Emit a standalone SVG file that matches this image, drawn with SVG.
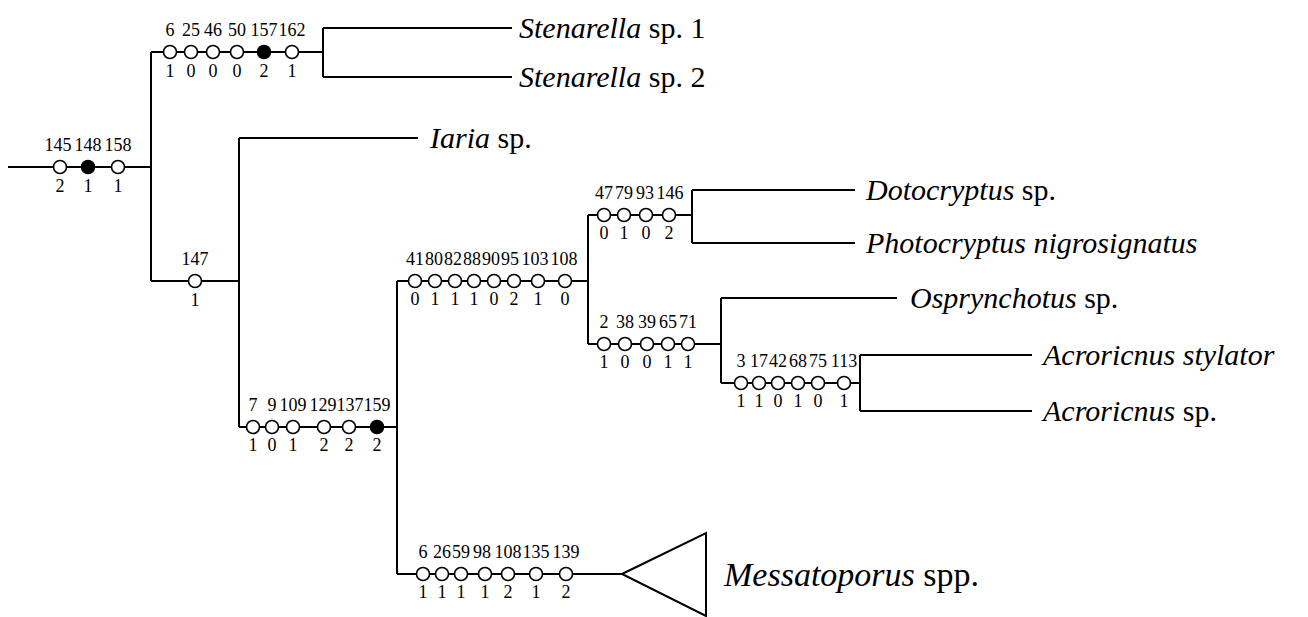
<svg xmlns="http://www.w3.org/2000/svg" width="1308" height="617" viewBox="0 0 1308 617" font-family="Liberation Serif, DejaVu Serif, Times New Roman, serif">
<style>
.ln{stroke:#000;stroke-width:2;fill:none}
.oc{fill:#fff;stroke:#000;stroke-width:1.6}
.fc{fill:#000;stroke:#000;stroke-width:1.6}
.lb{font-size:18px;fill:#000;text-anchor:middle}
.tx{font-size:30px;fill:#000}
.it{font-style:italic}
</style>
<rect width="1308" height="617" fill="#fff"/>
<g id="connectors">
<path class="ln" d="M8 167H151M151 52V281M151 52H323M323 28V77M323 28H512M323 77H512M151 281H239M239 138V427M239 138H418M239 427H397M397 281V574M397 281H588M588 215V344M588 215H692M692 190V243M692 190H855M692 243H855M588 344H721M721 298V383M721 298H897M721 383H860M860 355V411M860 355H1032M860 411H1032M397 574H622"/>
</g>
<g id="root-chars">
<circle class="oc" cx="60" cy="167" r="6.5"/><circle class="fc" cx="88" cy="167" r="6.5"/><circle class="oc" cx="118" cy="167" r="6.5"/>
<text class="lb" x="58" y="151">145</text><text class="lb" x="88" y="151">148</text><text class="lb" x="118" y="151">158</text>
<text class="lb" x="60" y="192">2</text><text class="lb" x="88" y="192">1</text><text class="lb" x="118" y="192">1</text>
</g>
<g id="stenarella-chars">
<circle class="oc" cx="170" cy="52" r="6.5"/><circle class="oc" cx="191" cy="52" r="6.5"/><circle class="oc" cx="213" cy="52" r="6.5"/><circle class="oc" cx="237" cy="52" r="6.5"/><circle class="fc" cx="264" cy="52" r="6.5"/><circle class="oc" cx="292" cy="52" r="6.5"/>
<text class="lb" x="170" y="36">6</text><text class="lb" x="191" y="36">25</text><text class="lb" x="213" y="36">46</text><text class="lb" x="237" y="36">50</text><text class="lb" x="264" y="36">157</text><text class="lb" x="292" y="36">162</text>
<text class="lb" x="170" y="77">1</text><text class="lb" x="191" y="77">0</text><text class="lb" x="213" y="77">0</text><text class="lb" x="237" y="77">0</text><text class="lb" x="264" y="77">2</text><text class="lb" x="292" y="77">1</text>
</g>
<g id="n147-chars">
<circle class="oc" cx="195" cy="281" r="6.5"/>
<text class="lb" x="195" y="265">147</text><text class="lb" x="195" y="306">1</text>
</g>
<g id="n7-chars">
<circle class="oc" cx="253" cy="427" r="6.5"/><circle class="oc" cx="272" cy="427" r="6.5"/><circle class="oc" cx="293" cy="427" r="6.5"/><circle class="oc" cx="324" cy="427" r="6.5"/><circle class="oc" cx="349" cy="427" r="6.5"/><circle class="fc" cx="377" cy="427" r="6.5"/>
<text class="lb" x="253" y="411">7</text><text class="lb" x="272" y="411">9</text><text class="lb" x="293" y="411">109</text><text class="lb" x="323" y="411">129</text><text class="lb" x="350" y="411">137</text><text class="lb" x="377" y="411">159</text>
<text class="lb" x="253" y="451">1</text><text class="lb" x="272" y="451">0</text><text class="lb" x="293" y="451">1</text><text class="lb" x="324" y="451">2</text><text class="lb" x="349" y="451">2</text><text class="lb" x="377" y="451">2</text>
</g>
<g id="n41-chars">
<circle class="oc" cx="415" cy="281" r="6.5"/><circle class="oc" cx="435" cy="281" r="6.5"/><circle class="oc" cx="455" cy="281" r="6.5"/><circle class="oc" cx="474" cy="281" r="6.5"/><circle class="oc" cx="494" cy="281" r="6.5"/><circle class="oc" cx="514" cy="281" r="6.5"/><circle class="oc" cx="538" cy="281" r="6.5"/><circle class="oc" cx="565" cy="281" r="6.5"/>
<text class="lb" x="415" y="265">41</text><text class="lb" x="434" y="265">80</text><text class="lb" x="453" y="265">82</text><text class="lb" x="472" y="265">88</text><text class="lb" x="491" y="265">90</text><text class="lb" x="510" y="265">95</text><text class="lb" x="535" y="265">103</text><text class="lb" x="564" y="265">108</text>
<text class="lb" x="415" y="305">0</text><text class="lb" x="435" y="305">1</text><text class="lb" x="455" y="305">1</text><text class="lb" x="474" y="305">1</text><text class="lb" x="494" y="305">0</text><text class="lb" x="514" y="305">2</text><text class="lb" x="538" y="305">1</text><text class="lb" x="565" y="305">0</text>
</g>
<g id="n47-chars">
<circle class="oc" cx="604" cy="215" r="6.5"/><circle class="oc" cx="624" cy="215" r="6.5"/><circle class="oc" cx="646" cy="215" r="6.5"/><circle class="oc" cx="669" cy="215" r="6.5"/>
<text class="lb" x="604" y="199">47</text><text class="lb" x="624" y="199">79</text><text class="lb" x="645" y="199">93</text><text class="lb" x="670" y="199">146</text>
<text class="lb" x="604" y="239">0</text><text class="lb" x="624" y="239">1</text><text class="lb" x="646" y="239">0</text><text class="lb" x="669" y="239">2</text>
</g>
<g id="n2-chars">
<circle class="oc" cx="604" cy="344" r="6.5"/><circle class="oc" cx="625" cy="344" r="6.5"/><circle class="oc" cx="647" cy="344" r="6.5"/><circle class="oc" cx="668" cy="344" r="6.5"/><circle class="oc" cx="688" cy="344" r="6.5"/>
<text class="lb" x="604" y="328">2</text><text class="lb" x="625" y="328">38</text><text class="lb" x="647" y="328">39</text><text class="lb" x="668" y="328">65</text><text class="lb" x="688" y="328">71</text>
<text class="lb" x="604" y="368">1</text><text class="lb" x="625" y="368">0</text><text class="lb" x="647" y="368">0</text><text class="lb" x="668" y="368">1</text><text class="lb" x="688" y="368">1</text>
</g>
<g id="n3-chars">
<circle class="oc" cx="741" cy="383" r="6.5"/><circle class="oc" cx="759" cy="383" r="6.5"/><circle class="oc" cx="778" cy="383" r="6.5"/><circle class="oc" cx="798" cy="383" r="6.5"/><circle class="oc" cx="818" cy="383" r="6.5"/><circle class="oc" cx="844" cy="383" r="6.5"/>
<text class="lb" x="741" y="367">3</text><text class="lb" x="759" y="367">17</text><text class="lb" x="778" y="367">42</text><text class="lb" x="798" y="367">68</text><text class="lb" x="818" y="367">75</text><text class="lb" x="844" y="367">113</text>
<text class="lb" x="741" y="407">1</text><text class="lb" x="759" y="407">1</text><text class="lb" x="778" y="407">0</text><text class="lb" x="798" y="407">1</text><text class="lb" x="818" y="407">0</text><text class="lb" x="844" y="407">1</text>
</g>
<g id="n6-chars">
<circle class="oc" cx="423" cy="574" r="6.5"/><circle class="oc" cx="442" cy="574" r="6.5"/><circle class="oc" cx="461" cy="574" r="6.5"/><circle class="oc" cx="485" cy="574" r="6.5"/><circle class="oc" cx="508" cy="574" r="6.5"/><circle class="oc" cx="536" cy="574" r="6.5"/><circle class="oc" cx="566" cy="574" r="6.5"/>
<text class="lb" x="423" y="558">6</text><text class="lb" x="442" y="558">26</text><text class="lb" x="461" y="558">59</text><text class="lb" x="482" y="558">98</text><text class="lb" x="508" y="558">108</text><text class="lb" x="536" y="558">135</text><text class="lb" x="566" y="558">139</text>
<text class="lb" x="423" y="598">1</text><text class="lb" x="442" y="598">1</text><text class="lb" x="461" y="598">1</text><text class="lb" x="485" y="598">1</text><text class="lb" x="508" y="598">2</text><text class="lb" x="536" y="598">1</text><text class="lb" x="566" y="598">2</text>
</g>
<g id="stenarella1"><text class="tx" x="519" y="38"><tspan class="it">Stenarella</tspan> sp. 1</text></g>
<g id="stenarella2"><text class="tx" x="519" y="87"><tspan class="it">Stenarella</tspan> sp. 2</text></g>
<g id="iaria"><text class="tx" x="430" y="148"><tspan class="it">Iaria</tspan> sp.</text></g>
<g id="dotocryptus"><text class="tx" x="866" y="200"><tspan class="it">Dotocryptus</tspan> sp.</text></g>
<g id="photocryptus"><text class="tx it" x="866" y="253">Photocryptus nigrosignatus</text></g>
<g id="osprynchotus"><text class="tx" x="910" y="308"><tspan class="it">Osprynchotus</tspan> sp.</text></g>
<g id="acroricnus-stylator"><text class="tx it" x="1043" y="365">Acroricnus stylator</text></g>
<g id="acroricnus-sp"><text class="tx" x="1043" y="421"><tspan class="it">Acroricnus</tspan> sp.</text></g>
<g id="messatoporus">
<polygon class="ln" points="622,574 706,533 706,616"/>
<text class="tx" x="724" y="586" style="font-size:34px"><tspan class="it">Messatoporus</tspan> spp.</text>
</g>
</svg>
